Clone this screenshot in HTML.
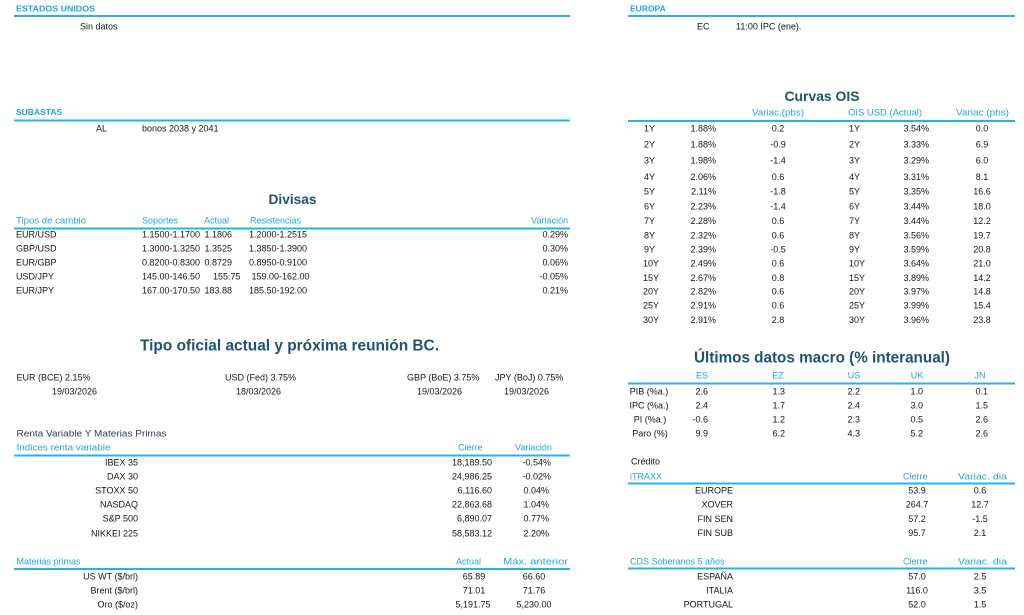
<!DOCTYPE html>
<html><head><meta charset="utf-8">
<style>
html,body{margin:0;padding:0;background:#fff;width:1024px;height:615px;overflow:hidden}
svg{display:block}
text{font-family:"Liberation Sans",Arial,sans-serif;font-size:9px;fill:#151515}
.h{fill:#22a6dc}
.hb{fill:#22a6dc;font-weight:bold;font-size:8.5px}
.t{fill:#1f5370;font-weight:bold;font-size:14px}
.r{text-anchor:end}
.m{text-anchor:middle}
.s{fill:#2e3f4f}
line{stroke:#2ab3e2;stroke-width:2}
</style></head><body>
<svg width="1024" height="615" viewBox="0 0 1024 615" xmlns="http://www.w3.org/2000/svg">
<!-- ESTADOS UNIDOS -->
<text class="hb" x="16" y="11.5" textLength="79" lengthAdjust="spacingAndGlyphs">ESTADOS UNIDOS</text>
<line x1="14" y1="16" x2="570" y2="16"/>
<text x="80" y="29.5">Sin datos</text>
<!-- EUROPA -->
<text class="hb" x="630" y="11.5">EUROPA</text>
<line x1="628" y1="16" x2="1015" y2="16"/>
<text x="697" y="29.5">EC</text>
<text x="736" y="29.5">11:00 IPC (ene).</text>
<!-- SUBASTAS -->
<text class="hb" x="16" y="115">SUBASTAS</text>
<line x1="14" y1="120.5" x2="570" y2="120.5"/>
<text x="96" y="131.5">AL</text>
<text x="142" y="131.5">bonos 2038 y 2041</text>

<!-- DIVISAS -->
<text class="t m" x="292.5" y="204" textLength="48" lengthAdjust="spacingAndGlyphs">Divisas</text>
<text class="h" x="16" y="223.5" textLength="70" lengthAdjust="spacingAndGlyphs">Tipos de cambio</text>
<text class="h" x="142" y="223.5">Soportes</text>
<text class="h" x="204" y="223.5">Actual</text>
<text class="h" x="250" y="223.5">Resistencias</text>
<text class="h r" x="568" y="223.5">Variación</text>
<line x1="14" y1="228.5" x2="570" y2="228.5"/>
<g>
<text x="16" y="237.5">EUR/USD</text><text x="142" y="237.5">1.1500-1.1700</text><text x="204.5" y="237.5">1.1806</text><text x="249" y="237.5">1.2000-1.2515</text><text class="r" x="568" y="237.5">0.29%</text>
<text x="16" y="251.5">GBP/USD</text><text x="142" y="251.5">1.3000-1.3250</text><text x="204.5" y="251.5">1.3525</text><text x="249" y="251.5">1.3850-1.3900</text><text class="r" x="568" y="251.5">0.30%</text>
<text x="16" y="265.5">EUR/GBP</text><text x="142" y="265.5">0.8200-0.8300</text><text x="204.5" y="265.5">0.8729</text><text x="249" y="265.5">0.8950-0.9100</text><text class="r" x="568" y="265.5">0.06%</text>
<text x="16" y="279.5">USD/JPY</text><text x="142" y="279.5">145.00-146.50</text><text x="213" y="279.5">155.75</text><text x="251.5" y="279.5">159.00-162.00</text><text class="r" x="568" y="279.5">-0.05%</text>
<text x="16" y="293.5">EUR/JPY</text><text x="142" y="293.5">167.00-170.50</text><text x="204.5" y="293.5">183.88</text><text x="249" y="293.5">185.50-192.00</text><text class="r" x="568" y="293.5">0.21%</text>
</g>

<!-- TIPO OFICIAL -->
<text class="t m" x="289.5" y="350.5" style="font-size:15.4px" textLength="299" lengthAdjust="spacingAndGlyphs">Tipo oficial actual y próxima reunión BC.</text>
<text x="16.5" y="380.5">EUR (BCE) 2.15%</text><text x="52" y="394.5">19/03/2026</text>
<text x="225" y="380.5">USD (Fed) 3.75%</text><text x="236" y="394.5">18/03/2026</text>
<text x="407" y="380.5">GBP (BoE) 3.75%</text><text x="417" y="394.5">19/03/2026</text>
<text x="495" y="380.5">JPY (BoJ) 0.75%</text><text x="504" y="394.5">19/03/2026</text>

<!-- RENTA VARIABLE -->
<text class="s" x="16.5" y="436.5" textLength="150" lengthAdjust="spacingAndGlyphs">Renta Variable Y Materias Primas</text>
<text class="h" x="16.5" y="450.5" textLength="94" lengthAdjust="spacingAndGlyphs">Índices renta variable</text>
<text class="h" x="458" y="450.5">Cierre</text>
<text class="h" x="515" y="450.5">Variación</text>
<line x1="14" y1="455.5" x2="570" y2="455.5"/>
<g>
<text class="r" x="138" y="465.5">IBEX 35</text><text class="r" x="492" y="465.5">18,189.50</text><text class="r" x="551" y="465.5">-0.54%</text>
<text class="r" x="138" y="479.5">DAX 30</text><text class="r" x="492" y="479.5">24,986.25</text><text class="r" x="551" y="479.5">-0.02%</text>
<text class="r" x="138" y="493.5">STOXX 50</text><text class="r" x="492" y="493.5">6,116.60</text><text class="r" x="549" y="493.5">0.04%</text>
<text class="r" x="138" y="507.5">NASDAQ</text><text class="r" x="492" y="507.5">22,863.68</text><text class="r" x="549" y="507.5">1.04%</text>
<text class="r" x="138" y="521.5">S&amp;P 500</text><text class="r" x="492" y="521.5">6,890.07</text><text class="r" x="549" y="521.5">0.77%</text>
<text class="r" x="138" y="536.5">NIKKEI 225</text><text class="r" x="492" y="536.5">58,583.12</text><text class="r" x="549" y="536.5">2.20%</text>
</g>

<!-- MATERIAS PRIMAS -->
<text class="h" x="16.5" y="564.5">Materias primas</text>
<text class="h" x="456" y="564.5">Actual</text>
<text class="h" x="503" y="564.5" textLength="65" lengthAdjust="spacingAndGlyphs">Máx. anterior</text>
<line x1="14" y1="569" x2="570" y2="569"/>
<g>
<text class="r" x="138" y="579.5">US WT ($/brl)</text><text class="m" x="474" y="579.5">65.89</text><text class="m" x="534" y="579.5">66.60</text>
<text class="r" x="138" y="593.5">Brent ($/brl)</text><text class="m" x="474" y="593.5">71.01</text><text class="m" x="534" y="593.5">71.76</text>
<text class="r" x="138" y="607.5">Oro ($/oz)</text><text class="m" x="473" y="607.5">5,191.75</text><text class="m" x="534" y="607.5">5,230.00</text>
</g>

<!-- CURVAS OIS -->
<text class="t m" x="822" y="101" textLength="75" lengthAdjust="spacingAndGlyphs">Curvas OIS</text>
<text class="h" x="752" y="115.5" textLength="52" lengthAdjust="spacingAndGlyphs">Variac.(pbs)</text>
<text class="h" x="848" y="115.5" textLength="74" lengthAdjust="spacingAndGlyphs">OIS USD (Actual)</text>
<text class="h" x="956" y="115.5" textLength="53" lengthAdjust="spacingAndGlyphs">Variac.(pbs)</text>
<line x1="628" y1="121" x2="1015" y2="121"/>
<g>
<text x="644" y="131.5">1Y</text><text class="r" x="716" y="131.5">1.88%</text><text class="m" x="778" y="131.5">0.2</text><text x="849" y="131.5">1Y</text><text class="r" x="929" y="131.5">3.54%</text><text class="m" x="982" y="131.5">0.0</text>
<text x="644" y="147.5">2Y</text><text class="r" x="716" y="147.5">1.88%</text><text class="m" x="778" y="147.5">-0.9</text><text x="849" y="147.5">2Y</text><text class="r" x="929" y="147.5">3.33%</text><text class="m" x="982" y="147.5">6.9</text>
<text x="644" y="163.5">3Y</text><text class="r" x="716" y="163.5">1.98%</text><text class="m" x="778" y="163.5">-1.4</text><text x="849" y="163.5">3Y</text><text class="r" x="929" y="163.5">3.29%</text><text class="m" x="982" y="163.5">6.0</text>
<text x="644" y="180">4Y</text><text class="r" x="716" y="180">2.06%</text><text class="m" x="778" y="180">0.6</text><text x="849" y="180">4Y</text><text class="r" x="929" y="180">3.31%</text><text class="m" x="982" y="180">8.1</text>
<text x="644" y="194.5">5Y</text><text class="r" x="716" y="194.5">2.11%</text><text class="m" x="778" y="194.5">-1.8</text><text x="849" y="194.5">5Y</text><text class="r" x="929" y="194.5">3.35%</text><text class="m" x="982" y="194.5">16.6</text>
<text x="644" y="209.5">6Y</text><text class="r" x="716" y="209.5">2.23%</text><text class="m" x="778" y="209.5">-1.4</text><text x="849" y="209.5">6Y</text><text class="r" x="929" y="209.5">3.44%</text><text class="m" x="982" y="209.5">18.0</text>
<text x="644" y="224">7Y</text><text class="r" x="716" y="224">2.28%</text><text class="m" x="778" y="224">0.6</text><text x="849" y="224">7Y</text><text class="r" x="929" y="224">3.44%</text><text class="m" x="982" y="224">12.2</text>
<text x="644" y="238.5">8Y</text><text class="r" x="716" y="238.5">2.32%</text><text class="m" x="778" y="238.5">0.6</text><text x="849" y="238.5">8Y</text><text class="r" x="929" y="238.5">3.56%</text><text class="m" x="982" y="238.5">19.7</text>
<text x="644" y="252.5">9Y</text><text class="r" x="716" y="252.5">2.39%</text><text class="m" x="778" y="252.5">-0.5</text><text x="849" y="252.5">9Y</text><text class="r" x="929" y="252.5">3.59%</text><text class="m" x="982" y="252.5">20.8</text>
<text x="643" y="266.5">10Y</text><text class="r" x="716" y="266.5">2.49%</text><text class="m" x="778" y="266.5">0.6</text><text x="849" y="266.5">10Y</text><text class="r" x="929" y="266.5">3.64%</text><text class="m" x="982" y="266.5">21.0</text>
<text x="643" y="281">15Y</text><text class="r" x="716" y="281">2.67%</text><text class="m" x="778" y="281">0.8</text><text x="849" y="281">15Y</text><text class="r" x="929" y="281">3.89%</text><text class="m" x="982" y="281">14.2</text>
<text x="643" y="294.5">20Y</text><text class="r" x="716" y="294.5">2.82%</text><text class="m" x="778" y="294.5">0.6</text><text x="849" y="294.5">20Y</text><text class="r" x="929" y="294.5">3.97%</text><text class="m" x="982" y="294.5">14.8</text>
<text x="643" y="308.5">25Y</text><text class="r" x="716" y="308.5">2.91%</text><text class="m" x="778" y="308.5">0.6</text><text x="849" y="308.5">25Y</text><text class="r" x="929" y="308.5">3.99%</text><text class="m" x="982" y="308.5">15.4</text>
<text x="643" y="323">30Y</text><text class="r" x="716" y="323">2.91%</text><text class="m" x="778" y="323">2.8</text><text x="849" y="323">30Y</text><text class="r" x="929" y="323">3.96%</text><text class="m" x="982" y="323">23.8</text>
</g>

<!-- MACRO -->
<text class="t m" x="822" y="362.5" style="font-size:15.3px" textLength="256" lengthAdjust="spacingAndGlyphs">Últimos datos macro (% interanual)</text>
<text class="h m" x="702" y="378.5">ES</text>
<text class="h m" x="778" y="378.5">EZ</text>
<text class="h m" x="854" y="378.5">US</text>
<text class="h m" x="917" y="378.5">UK</text>
<text class="h m" x="980" y="378.5">JN</text>
<line x1="628" y1="383.5" x2="1015" y2="383.5"/>
<g>
<text class="m" x="649" y="394.5">PIB (%a.)</text><text class="r" x="708" y="394.5">2.6</text><text class="r" x="785" y="394.5">1.3</text><text class="r" x="860" y="394.5">2.2</text><text class="r" x="923" y="394.5">1.0</text><text class="r" x="988" y="394.5">0.1</text>
<text class="m" x="649" y="408.5">IPC (%a.)</text><text class="r" x="708" y="408.5">2.4</text><text class="r" x="785" y="408.5">1.7</text><text class="r" x="860" y="408.5">2.4</text><text class="r" x="923" y="408.5">3.0</text><text class="r" x="988" y="408.5">1.5</text>
<text class="m" x="650" y="422.5">PI (%a.)</text><text class="r" x="708" y="422.5">-0.6</text><text class="r" x="785" y="422.5">1.2</text><text class="r" x="860" y="422.5">2.3</text><text class="r" x="923" y="422.5">0.5</text><text class="r" x="988" y="422.5">2.6</text>
<text class="m" x="650" y="436.5">Paro (%)</text><text class="r" x="708" y="436.5">9.9</text><text class="r" x="785" y="436.5">6.2</text><text class="r" x="860" y="436.5">4.3</text><text class="r" x="923" y="436.5">5.2</text><text class="r" x="988" y="436.5">2.6</text>
</g>

<!-- CREDITO -->
<text x="631" y="464.5">Crédito</text>
<text class="h" x="630" y="479.5">iTRAXX</text>
<text class="h" x="903" y="479.5">Cierre</text>
<text class="h" x="958" y="479.5" textLength="49" lengthAdjust="spacingAndGlyphs">Variac. dia</text>
<line x1="628" y1="483.5" x2="1015" y2="483.5"/>
<g>
<text class="r" x="733" y="493.5">EUROPE</text><text class="m" x="917" y="493.5">53.9</text><text class="m" x="980" y="493.5">0.6</text>
<text class="r" x="733" y="507.5">XOVER</text><text class="m" x="917" y="507.5">264.7</text><text class="m" x="980" y="507.5">12.7</text>
<text class="r" x="733" y="522">FIN SEN</text><text class="m" x="917" y="522">57.2</text><text class="m" x="980" y="522">-1.5</text>
<text class="r" x="733" y="536">FIN SUB</text><text class="m" x="917" y="536">95.7</text><text class="m" x="980" y="536">2.1</text>
</g>
<text class="h" x="630" y="564.5">CDS Soberanos 5 años</text>
<text class="h" x="903" y="564.5">Cierre</text>
<text class="h" x="958" y="564.5" textLength="49" lengthAdjust="spacingAndGlyphs">Variac. dia</text>
<line x1="628" y1="568.5" x2="1015" y2="568.5"/>
<g>
<text class="r" x="733" y="579.5">ESPAÑA</text><text class="m" x="917" y="579.5">57.0</text><text class="m" x="980" y="579.5">2.5</text>
<text class="r" x="733" y="593.5">ITALIA</text><text class="m" x="917" y="593.5">116.0</text><text class="m" x="980" y="593.5">3.5</text>
<text class="r" x="733" y="607.5">PORTUGAL</text><text class="m" x="917" y="607.5">52.0</text><text class="m" x="980" y="607.5">1.5</text>
</g>
</svg>
</body></html>
